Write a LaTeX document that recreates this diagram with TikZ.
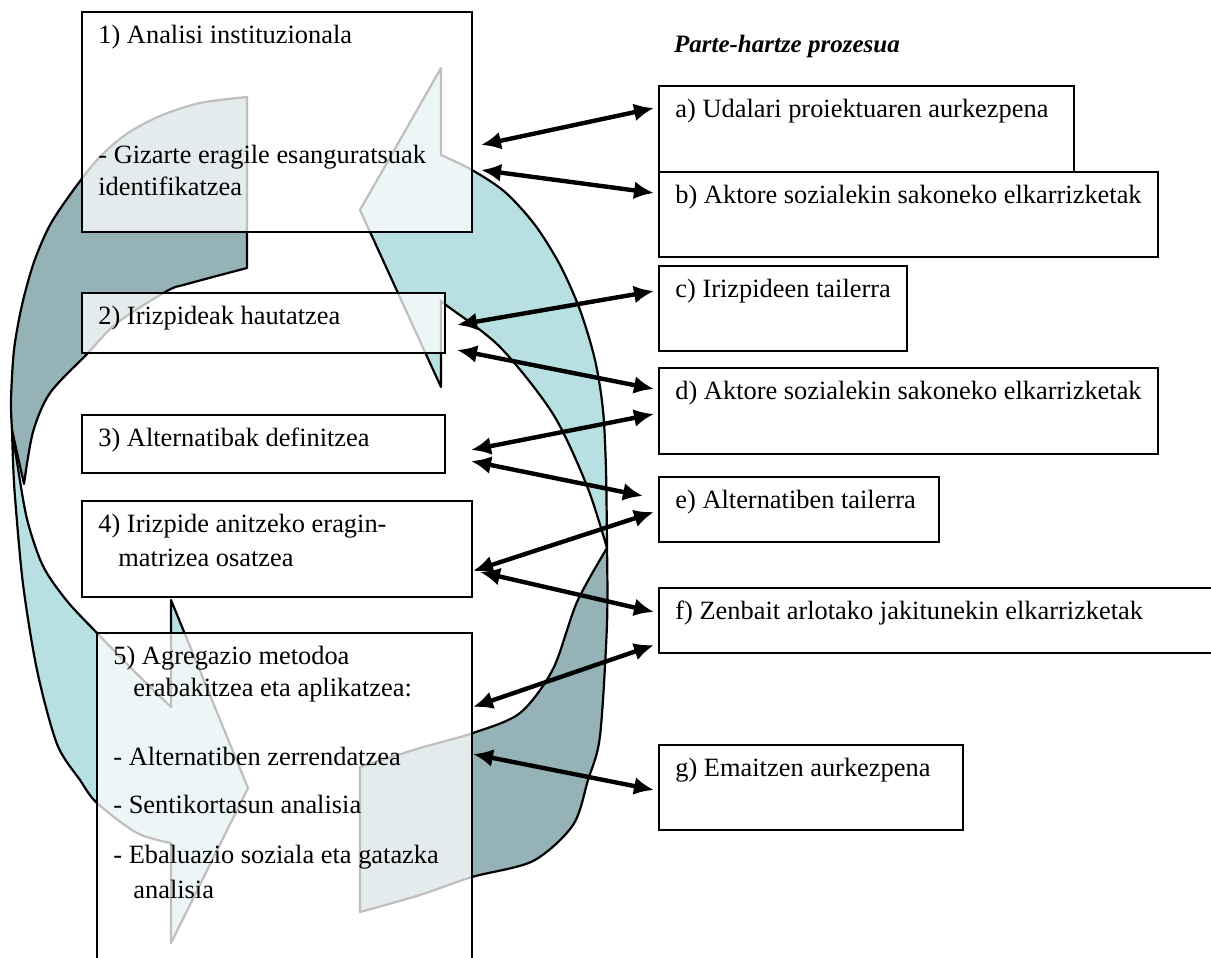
\documentclass[tikz,border=0pt]{standalone}
\usepackage{fontspec}
\setmainfont{Liberation Serif}
\usepackage{tikz}
\usetikzlibrary{arrows.meta}
\usepackage{xcolor}

\definecolor{bandlight}{RGB}{184,223,226}
\definecolor{banddark}{RGB}{149,179,182}

\tikzset{
	band/.style={draw=black, line width=1.1pt, line join=round},
	stage/.style={draw, line width=1.2pt, fill=white, fill opacity=0.75, outer sep=0pt, inner sep=0pt, anchor=north west},
	stagetext/.style={anchor=north west, inner xsep=8pt, inner ysep=4.2pt, align=left, font=\fontsize{13.2}{16}\selectfont},
	biarrow/.style={{Latex[length=10pt,width=9pt]}-{Latex[length=10pt,width=9pt]}, line width=2.2pt},
}

\begin{document}
\begin{tikzpicture}[x=0.5pt, y=-0.5pt] % {{{
		\useasboundingbox (0,0) rectangle (1211,958);
		\clip (0,0) rectangle (1211,958);
		\begin{scope} % Ezkerreko gezi kurbatua {{{
		\draw[band, fill=banddark] plot[smooth] coordinates {(247,97) (200,103) (160,116) (125,135) (97,160) (72,192) (50,225) (34,262) (22,305) (14,350) (11,400) (12,430)}
			-- plot[smooth] coordinates {(24,484) (33,432) (50,393) (87,354) (117,323) (167,291) (187,284) (247,268)} -- cycle;
		\draw[band, fill=bandlight] plot[smooth] coordinates {(12,430) (13,460) (15,497) (23,584) (37,670) (57,744) (80,780) (97,803) (137,833) (171,843)}
			-- (171,943) -- (248,788) -- (171,600)
			-- plot[smooth] coordinates {(171,707) (135,672) (97,633) (67,601) (43,566) (27,519) (17,462) (12,430)} -- cycle;
		\end{scope} % }}}
		\begin{scope} % Eskuineko gezi kurbatua {{{
		\draw[band, fill=bandlight] (441,68)
			-- plot[smooth] coordinates {(441,155) (472,170) (505,192) (535,225) (560,265) (580,310) (595,360) (603,410) (606,470) (607,548)}
			-- plot[smooth] coordinates {(607,548) (587,486) (553,414) (500,347) (446,305) (441,301)}
			-- (441,387) -- (360,210) -- cycle;
		\draw[band, fill=banddark] plot[smooth] coordinates {(607,548) (607,624) (600,736) (588,780) (573,825) (533,861) (472,877) (420,895) (360,912)}
			-- plot[smooth] coordinates {(360,767) (420,748) (473,733) (520,713) (553,669) (577,602) (607,548)} -- cycle;
		\end{scope} % }}}
		% Urratsak
		\node[stage, minimum width=195pt, minimum height=110pt] (s1) at (82,12) {};
		\node[stagetext] (t1) at (s1.north west) {\strut 1) Analisi instituzionala\\[44pt]- Gizarte eragile esanguratsuak\\identifikatzea};
		\node[stage, minimum width=181.5pt, minimum height=30pt] (s2) at (82,293) {};
		\node[stagetext] (t2) at (s2.north west) {\strut 2) Irizpideak hautatzea};
		\node[stage, minimum width=181.5pt, minimum height=29pt] (s3) at (82,415) {};
		\node[stagetext] (t3) at (s3.north west) {\strut 3) Alternatibak definitzea};
		\node[stage, minimum width=195pt, minimum height=48pt] (s4) at (82,501) {};
		\node[stagetext] (t4) at (s4.north west) {\strut 4) Irizpide anitzeko eragin-\\[1pt]\hspace*{10pt}matrizea osatzea};
		\node[stage, minimum width=187.5pt, minimum height=170pt] (s5) at (97,633) {};
		\node[stagetext] (t5) at (s5.north west) {\strut 5) Agregazio metodoa\\\hspace*{10pt}erabakitzea eta aplikatzea:\\[18.5pt]- Alternatiben zerrendatzea\\[8pt]- Sentikortasun analisia\\[9pt]- Ebaluazio soziala eta gatazka\\[1.5pt]\hspace*{10pt}analisia};
		% Parte-hartze prozesua
		\node[anchor=base west, font=\fontsize{12.5}{15}\selectfont\bfseries\itshape] (title) at (667,52) {Parte-hartze prozesua};
		\foreach \n/\y/\w/\h/\t in {a/86/207.5/43/{a) Udalari proiektuaren aurkezpena},
			b/172/249.5/42.5/{b) Aktore sozialekin sakoneko elkarrizketak},
			c/266/124/42.5/{c) Irizpideen tailerra},
			d/368/249.5/43/{d) Aktore sozialekin sakoneko elkarrizketak},
			e/477/140/32.5/{e) Alternatiben tailerra},
			f/588/290/32.5/{f) Zenbait arlotako jakitunekin elkarrizketak},
			g/745/152/42.5/{g) Emaitzen aurkezpena}} {
			\node[stage, minimum width=\w pt, minimum height=\h pt] (s\n) at (659,\y) {};
			\node[stagetext] (t\n) at (s\n.north west) {\strut\t};
		}
		% Geziak
		\foreach \src/\sx/\sy/\dst/\dx/\dy in {1/9/133/a/-5/22, 1/9/158/b/-5/21, 2/12/32/c/-5/25, 2/12/57/d/-5/21,
			3/26/35/d/-5/46, 3/26/46/e/-16/19, 4/1/70/e/-5/35, 4/8/71/f/-5/24, 5/1/74/f/-5/57, 5/1/121/g/-5/45}
			\draw[biarrow] ([shift={(\sx,\sy)}]s\src.north east) -- ([shift={(\dx,\dy)}]s\dst.north west);
\end{tikzpicture} % }}}
\end{document}
